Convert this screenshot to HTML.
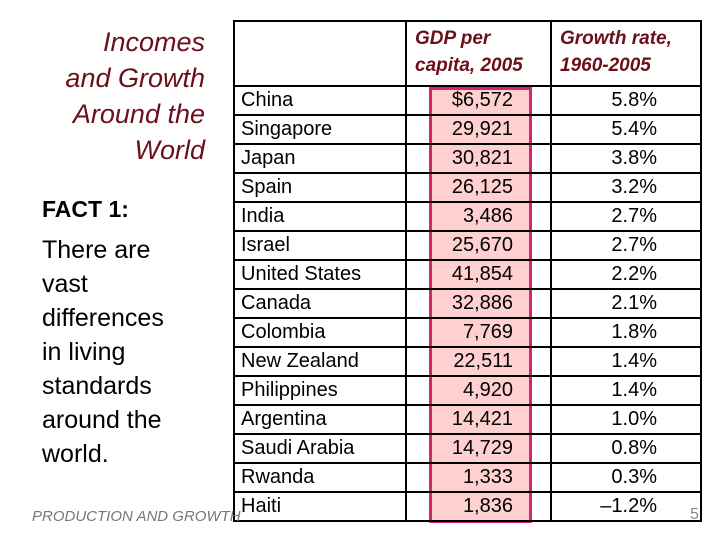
<!DOCTYPE html>
<html><head><meta charset="utf-8"><style>
body{margin:0;width:720px;height:540px;background:#fff;position:relative;overflow:hidden;font-family:"Liberation Sans",Arial,sans-serif}
.a{position:absolute}
#title{right:515px;top:24px;text-align:right;color:#6b0f1a;font-style:italic;font-size:27px;line-height:36px}
#fact{left:42px;top:196px;font-size:23px;font-weight:bold}
#body{left:42px;top:233px;font-size:25px;line-height:34px}
#foot{left:32px;top:508px;font-size:15px;font-style:italic;color:#777}
#pg{left:690px;top:506px;font-size:16px;color:#888}
table{position:absolute;left:233px;top:20px;border-collapse:collapse;font-size:20px;table-layout:fixed;width:467px}
td{border:2px solid #000;padding:0;line-height:25px;overflow:hidden;white-space:nowrap}
tbody tr{height:29px}
th{border:2px solid #000;height:60px;color:#6b0f1a;font-style:italic;font-weight:bold;font-size:19px;text-align:left;padding:3px 0 0 8px;line-height:27px;vertical-align:top;white-space:nowrap}
.c1{padding-left:6px}
.c2{text-align:right;padding-right:37px}
.c3{text-align:right;padding-right:43px}
#hl{left:429px;top:87px;width:97px;height:430px;border:3px solid #d6246e;background:rgba(255,170,170,.55)}
</style></head><body>
<div class="a" id="title">Incomes<br>and Growth<br>Around the<br>World</div>
<div class="a" id="fact">FACT 1:</div>
<div class="a" id="body">There are<br>vast<br>differences<br>in living<br>standards<br>around the<br>world.</div>
<div class="a" id="hl"></div>
<table>
<colgroup><col style="width:172px"><col style="width:145px"><col style="width:150px"></colgroup>
<thead><tr><th></th><th>GDP per<br>capita, 2005</th><th>Growth rate,<br>1960-2005</th></tr></thead>
<tbody id="tb"></tbody>
</table>
<div class="a" id="foot">PRODUCTION AND GROWTH</div>
<div class="a" id="pg">5</div>
<script>
const countries=["China","Singapore","Japan","Spain","India","Israel","United States","Canada","Colombia","New Zealand","Philippines","Argentina","Saudi Arabia","Rwanda","Haiti"];
const gdp=["$6,572","29,921","30,821","26,125","3,486","25,670","41,854","32,886","7,769","22,511","4,920","14,421","14,729","1,333","1,836"];
const growth=["5.8%","5.4%","3.8%","3.2%","2.7%","2.7%","2.2%","2.1%","1.8%","1.4%","1.4%","1.0%","0.8%","0.3%","–1.2%"];
const tb=document.getElementById('tb');
countries.forEach((c,i)=>{
 const tr=document.createElement('tr');
 
 
 [[c,'c1'],[gdp[i],'c2'],[growth[i],'c3']].forEach(([t,cl])=>{
  const td=document.createElement('td');td.className=cl;td.textContent=t;
  
  
  tr.appendChild(td);
 });
 tb.appendChild(tr);
});
</script>
</body></html>
